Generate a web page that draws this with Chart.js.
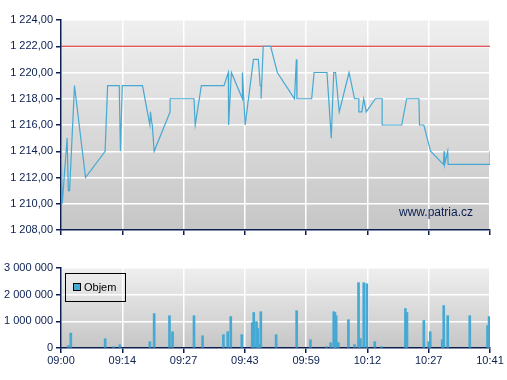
<!DOCTYPE html>
<html lang="cs">
<head>
<meta charset="UTF-8">
<title>Kurz a objem</title>
<script src="https://cdn.jsdelivr.net/npm/chart.js"></script>
<style>
  body { margin: 0; background: #fff; }
  .wrap { position: relative; width: 507px; height: 380px; }
  #cenaBox { position: absolute; left: 0; top: 0; width: 507px; height: 250px; }
  #objemBox { position: absolute; left: 0; top: 250px; width: 507px; height: 130px; }
</style>
</head>
<body>
<div class="wrap">
  <div id="cenaBox"><canvas id="cenaChart"></canvas></div>
  <div id="objemBox"><canvas id="objemChart"></canvas></div>
</div>

<script>
  // osa x = poradi obchodu (0..700), popisky casu po 100
  var timeLabels = ['09:00', '09:14', '09:27', '09:43', '09:59', '10:12', '10:27', '10:41'];

  var priceX = [0, 2, 10, 12, 14, 22, 40, 72, 76, 95, 97, 100, 133, 145, 146, 148, 149, 152, 178, 178,
    217, 219, 229, 266, 273, 273.5, 278, 296, 296, 300.5, 314, 322, 325, 326.5, 326.5, 330, 342, 353,
    381, 384, 385, 409, 413, 434, 441, 445, 448, 454, 470, 479, 486, 486, 491, 494, 498, 513, 524, 524,
    556, 564, 584, 585, 592, 603, 624, 625, 626, 631, 631.6, 700, 700];
  var priceY = [1214.7, 1210, 1215, 1211, 1211, 1219, 1212, 1214, 1219, 1219, 1214, 1219, 1219, 1216, 1217, 1216.2, 1216, 1214, 1217, 1218,
    1218, 1216, 1219, 1219, 1220, 1216, 1220, 1218, 1220, 1216, 1221, 1221, 1219, 1219, 1218, 1222, 1222, 1220,
    1218, 1221, 1218, 1218, 1220, 1220, 1215, 1220, 1220, 1217, 1220, 1218, 1218, 1217, 1217, 1218, 1217, 1218, 1218, 1216,
    1216, 1218, 1218, 1216, 1216, 1214, 1213, 1214, 1213, 1214, 1213, 1213, 1214];

  var limitPrice = 1222;

  var volX = [12, 16, 72, 86, 96, 145, 152, 177, 182, 217, 231, 265, 272, 277, 295, 312, 314.5, 319, 321, 323.5,
    326, 351, 384.5, 407, 433, 440, 445, 447, 449, 452.5, 469, 479, 485.5, 488.5, 494, 499, 512, 523, 562, 564.5,
    592, 600, 602.5, 622, 624.5, 631, 667, 696, 698.5];
  var volY = [90000, 560000, 350000, 50000, 120000, 240000, 1290000, 1210000, 610000, 1210000, 460000, 500000, 610000, 1180000, 500000,
    950000, 1330000, 990000, 730000, 130000, 1360000, 500000, 1400000, 310000, 50000, 200000, 1360000, 1330000, 1210000, 200000,
    1060000, 130000, 2450000, 350000, 2450000, 2410000, 240000, 50000, 1480000, 1330000, 1030000, 240000, 610000, 310000, 1590000,
    1210000, 1210000, 840000, 1180000];

  var navy = '#0a1f50';
  var modra = '#45a9d3';

  Chart.defaults.font.family = '"Liberation Sans", Arial, sans-serif';
  Chart.defaults.font.size = 11;
  Chart.defaults.color = navy;
  Chart.defaults.animation = false;

  function mezery(n) {
    return String(n).replace(/\B(?=(\d{3})+(?!\d))/g, ' ');
  }

  var pozadi = {
    id: 'pozadi',
    beforeDraw: function(chart) {
      var a = chart.chartArea, ctx = chart.ctx;
      var g = ctx.createLinearGradient(0, a.top, 0, a.bottom);
      g.addColorStop(0, '#efefef');
      g.addColorStop(1, '#c6c6c6');
      ctx.save();
      ctx.fillStyle = g;
      ctx.fillRect(a.left, a.top, a.right - a.left, a.bottom - a.top);
      ctx.restore();
    }
  };

  var vodoznak = {
    id: 'vodoznak',
    afterDraw: function(chart) {
      var ctx = chart.ctx;
      ctx.save();
      ctx.fillStyle = navy;
      ctx.font = '12px "Liberation Sans", Arial, sans-serif';
      ctx.textAlign = 'right';
      ctx.textBaseline = 'middle';
      ctx.fillText('www.patria.cz', 473, 213);
      ctx.restore();
    }
  };

  var legenda = {
    id: 'legenda',
    afterDraw: function(chart) {
      var ctx = chart.ctx;
      ctx.save();
      ctx.strokeStyle = '#000';
      ctx.lineWidth = 1;
      ctx.strokeRect(65.5, 23.5, 60, 28);
      ctx.fillStyle = modra;
      ctx.fillRect(73.5, 33.5, 7, 7);
      ctx.strokeRect(73.5, 33.5, 7, 7);
      ctx.fillStyle = '#000';
      ctx.font = '11px "Liberation Sans", Arial, sans-serif';
      ctx.textBaseline = 'middle';
      ctx.fillText('Objem', 84, 37.5);
      ctx.restore();
    }
  };

  function osaX(showLabels, h) {
    return {
      type: 'linear',
      min: 0,
      max: 700,
      offset: false,
      afterFit: function(s) { s.height = h; },
      grid: { offset: false, color: '#ffffff', lineWidth: 1.5, tickColor: navy, tickLength: 5 },
      border: { color: navy, width: 1.5 },
      ticks: {
        display: showLabels,
        stepSize: 100,
        autoSkip: false,
        maxRotation: 0,
        padding: 1,
        color: navy,
        callback: function(v) { return timeLabels[Math.round(v / 100)]; }
      }
    };
  }

  var cenaData = [];
  for (var i = 0; i < priceX.length; i++) cenaData.push({ x: priceX[i], y: priceY[i] });

  new Chart(document.getElementById('cenaChart'), {
    type: 'line',
    data: {
      datasets: [{
        label: 'Cena',
        data: cenaData,
        borderColor: modra,
        borderWidth: 1.2,
        pointRadius: 0,
        tension: 0
      }, {
        label: 'Limit',
        data: [{ x: 0, y: limitPrice }, { x: 700, y: limitPrice }],
        borderColor: '#dd2020',
        borderWidth: 1.2,
        pointRadius: 0
      }]
    },
    options: {
      responsive: true,
      maintainAspectRatio: false,
      layout: { padding: { top: 20, right: 17, left: 0, bottom: 0 } },
      plugins: { legend: { display: false }, tooltip: { enabled: false } },
      scales: {
        x: osaX(false, 20),
        y: {
          min: 1208,
          max: 1224,
          afterFit: function(s) { s.width = 61; },
          grid: { color: '#ffffff', lineWidth: 1.5, tickColor: navy, tickLength: 5 },
          border: { color: navy, width: 1.5 },
          ticks: {
            stepSize: 2,
            padding: 3,
            color: navy,
            callback: function(v) { return mezery(Math.floor(v)) + ',' + '00'; }
          }
        }
      }
    },
    plugins: [pozadi, vodoznak]
  });

  var objemData = [];
  for (var j = 0; j < volX.length; j++) objemData.push({ x: volX[j], y: volY[j] });

  new Chart(document.getElementById('objemChart'), {
    type: 'bar',
    data: {
      datasets: [{
        label: 'Objem',
        data: objemData,
        backgroundColor: modra,
        barThickness: 2,
        borderWidth: 0
      }]
    },
    options: {
      responsive: true,
      maintainAspectRatio: false,
      layout: { padding: { top: 18, right: 17, left: 0, bottom: 0 } },
      plugins: { legend: { display: false }, tooltip: { enabled: false } },
      scales: {
        x: osaX(true, 32),
        y: {
          min: 0,
          max: 3000000,
          afterFit: function(s) { s.width = 61; },
          grid: { color: '#ffffff', lineWidth: 1.5, tickColor: navy, tickLength: 5 },
          border: { color: navy, width: 1.5 },
          ticks: {
            stepSize: 1000000,
            padding: 3,
            color: navy,
            callback: function(v) { return mezery(v); }
          }
        }
      }
    },
    plugins: [pozadi, legenda]
  });
</script>
</body>
</html>
